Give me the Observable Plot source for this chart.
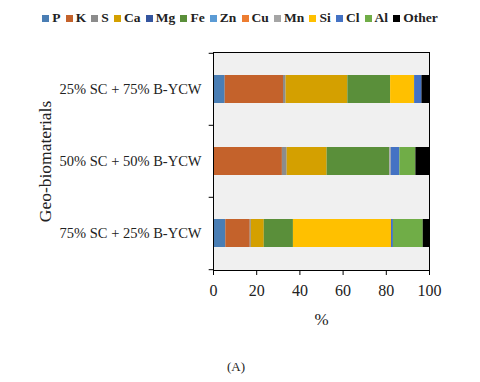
<!DOCTYPE html>
<html>
<head>
<meta charset="utf-8">
<script src="https://cdn.jsdelivr.net/npm/d3@7"></script>
<script src="https://cdn.jsdelivr.net/npm/@observablehq/plot@0.6"></script>
<style>
  html, body { margin: 0; padding: 0; background: #fff; }
  #wrap { position: relative; width: 480px; height: 382px; font-family: "Liberation Serif", "Times New Roman", serif; }
  #legend { position: absolute; top: 10px; left: 0; width: 480px; display: flex; justify-content: center; font-weight: bold; font-size: 13.5px; color: #222; line-height: 16px; }
  .item { display: flex; align-items: center; margin: 0 2.6px; }
  .sw { width: 7px; height: 7px; margin-right: 3px; }
  #cap { position: absolute; left: 227px; top: 359px; font-size: 13px; color: #222; }
</style>
</head>
<body>
<div id="wrap">
  <div id="legend"></div>
  <div id="cap">(A)</div>
</div>
<script>
const categories = ["25% SC + 75% B-YCW", "50% SC + 50% B-YCW", "75% SC + 25% B-YCW"];
const elements = ["P", "K", "S", "Ca", "Mg", "Fe", "Zn", "Cu", "Mn", "Si", "Cl", "Al", "Other"];
const colors = ["#4a7eb4", "#c4622b", "#8c8c8c", "#d4a000", "#34559f", "#5a8f3a", "#5b9bd5", "#ed7d31", "#a5a5a5", "#ffc000", "#4472c4", "#70ad47", "#000000"];
const sc25 = [5.4, 27.0, 1.2, 28.6, 0, 19.8, 0, 0, 0, 11.1, 3.4, 0, 3.5];
const sc50 = [0, 31.9, 2.2, 18.5, 0, 29.0, 0, 0, 0.7, 0, 4.0, 7.4, 6.3];
const sc75 = [5.7, 11.3, 0.5, 6.0, 0, 13.5, 0, 0, 0, 45.4, 0.9, 13.8, 2.9];
const xTicks = [0, 20, 40, 60, 80, 100];
const xLabel = "%";
const yLabel = "Geo-biomaterials";

const series = [sc25, sc50, sc75];
const rows = categories.flatMap((c, i) => elements.map((e, j) => ({category: c, element: e, value: series[i][j]})));

const legend = document.getElementById("legend");
elements.forEach((e, i) => {
  const it = document.createElement("div");
  it.className = "item";
  const sw = document.createElement("span");
  sw.className = "sw";
  sw.style.background = colors[i];
  const t = document.createElement("span");
  t.textContent = e;
  it.appendChild(sw); it.appendChild(t);
  legend.appendChild(it);
});

const plot = Plot.plot({
  width: 480,
  height: 382,
  marginTop: 52,
  marginBottom: 112,
  marginLeft: 213,
  marginRight: 51,
  style: {fontFamily: "'Liberation Serif', 'Times New Roman', serif", color: "#222", background: "transparent"},
  x: {domain: [0, 100]},
  y: {domain: categories, padding: 0},
  color: {domain: elements, range: colors},
  marks: [
    Plot.frame({fill: "#f0f0f0"}),
    Plot.barX(rows, Plot.stackX({y: "category", x: "value", fill: "element", insetTop: 22, insetBottom: 22})),
    Plot.frame({stroke: "#000", strokeWidth: 1}),
    Plot.axisX({ticks: xTicks, tickSize: 5, tickPadding: 9, fontSize: 16, stroke: "#000", label: null}),
    Plot.axisY({tickSize: 0, tickPadding: 12, fontSize: 14.5, label: null}),
    Plot.text([xLabel], {frameAnchor: "bottom", dy: 54, fontSize: 17, fill: "#222"}),
    Plot.text([yLabel], {frameAnchor: "left", textAnchor: "middle", rotate: -90, dx: -168, fontSize: 17.5, fill: "#222"}),
    Plot.ruleY(categories, {y: d => d, x1: -2, x2: 0, dy: -36.2, stroke: "#000"}),
    Plot.ruleY(categories.slice(-1), {y: d => d, x1: -2, x2: 0, dy: 36.2, stroke: "#000"})
  ]
});
plot.style.position = "absolute";
plot.style.left = "0";
plot.style.top = "0";
document.getElementById("wrap").insertBefore(plot, document.getElementById("legend"));
</script>
</body>
</html>
